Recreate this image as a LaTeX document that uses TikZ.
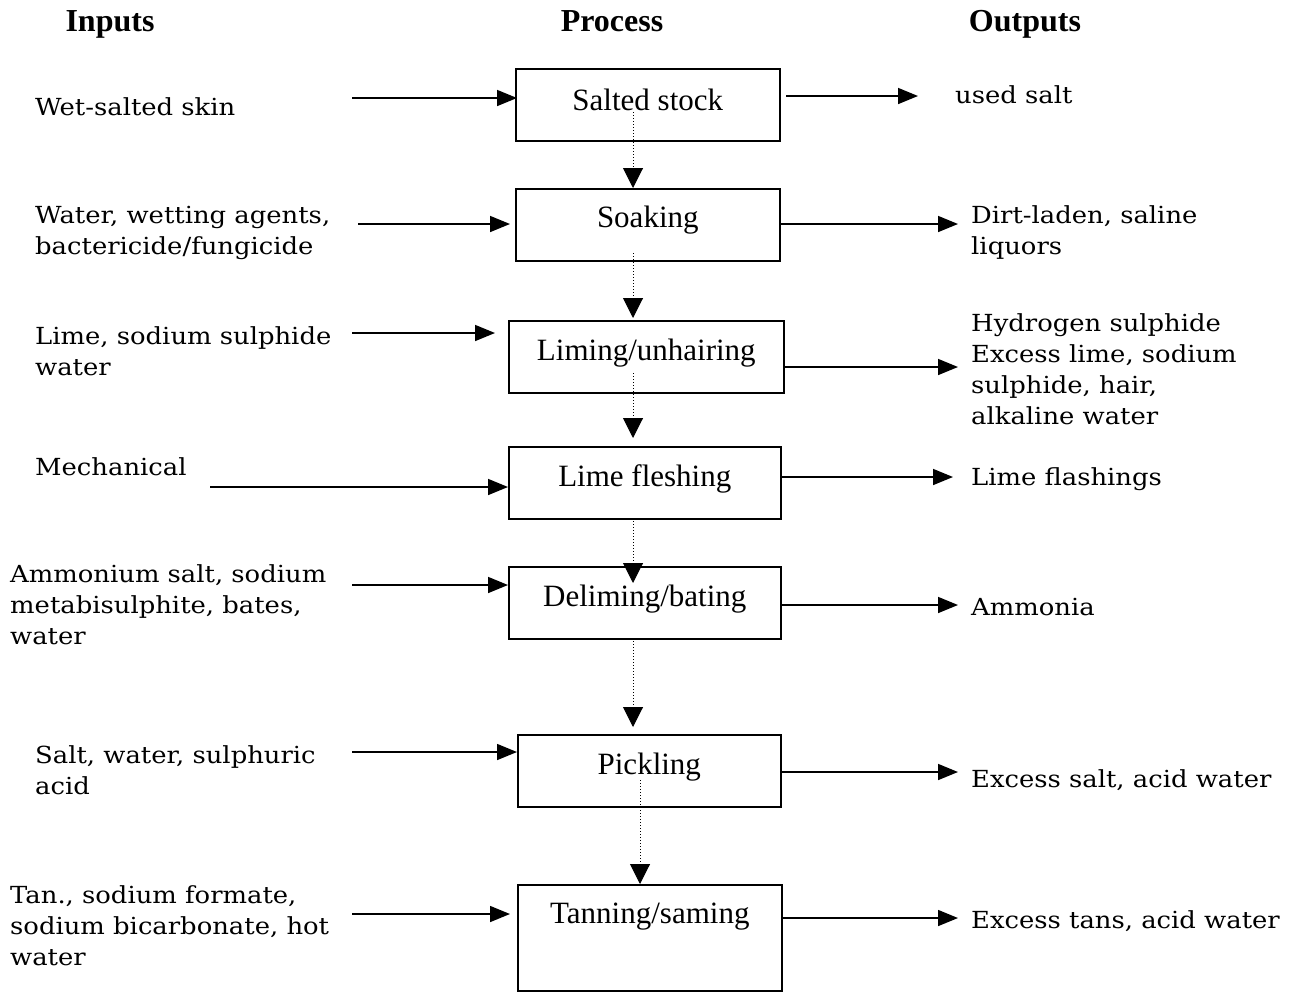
\documentclass[tikz,border=0pt]{standalone}
\usepackage{fontspec}
\setmainfont{Liberation Serif}
\newfontfamily\sidefont[FakeStretch=1.1]{DejaVu Serif}
\usetikzlibrary{arrows.meta}
\begin{document}
\begin{tikzpicture}[x=1pt,y=-1pt,
  procbox/.style={draw,line width=1.6pt,inner sep=0pt,anchor=north west,
    font=\fontsize{31}{36}\selectfont,align=center},
  sidetext/.style={inner sep=0pt,anchor=north west,align=left,
    font=\sidefont\fontsize{23.5}{31}\selectfont},
  header/.style={inner sep=0pt,anchor=base,font=\bfseries\fontsize{32}{36}\selectfont},
  flow/.style={line width=1.6pt,-{Triangle[length=20pt,width=16pt]}},
  dflow/.style={line width=1pt,dotted,-{Triangle[length=20pt,width=20pt]}}]
\useasboundingbox (0,0) rectangle (1289,991);

% headers
\node[header] (hin) at (110,31) {Inputs};
\node[header] (hpr) at (612,31) {Process};
\node[header] (hout) at (1025,31) {Outputs};

% process boxes
\node[procbox,minimum width=264pt,text height=42pt,text depth=30pt] (b1) at (515,68) {Salted stock};
\node[procbox,minimum width=264pt,text height=39pt,text depth=33pt] (b2) at (515,188) {Soaking};
\node[procbox,minimum width=275pt,text height=40pt,text depth=32pt] (b3) at (508,320) {Liming/unhairing};
\node[procbox,minimum width=272pt,text height=40pt,text depth=32pt] (b4) at (508,446) {Lime fleshing};
\node[procbox,minimum width=272pt,text height=40pt,text depth=32pt] (b5) at (508,566) {Deliming/bating};
\node[procbox,minimum width=263pt,text height=40pt,text depth=32pt] (b6) at (517,734) {Pickling};
\node[procbox,minimum width=264pt,text height=39pt,text depth=67pt] (b7) at (517,884) {Tanning/saming};

% inputs
\node[sidetext] (i1) at (35,115-21.7) {\strut Wet-salted skin};
\node[sidetext] (i2) at (35,223-21.7) {\strut Water, wetting agents,\\bactericide/fungicide};
\node[sidetext] (i3) at (35,344-21.7) {\strut Lime, sodium sulphide\\water};
\node[sidetext] (i4) at (35,475-21.7) {\strut Mechanical};
\node[sidetext] (i5) at (10,582-21.7) {\strut Ammonium salt, sodium\\metabisulphite, bates,\\water};
\node[sidetext] (i6) at (35,763-21.7) {\strut Salt, water, sulphuric\\acid};
\node[sidetext] (i7) at (10,903-21.7) {\strut Tan., sodium formate,\\sodium bicarbonate, hot\\water};

% outputs
\node[sidetext] (o1) at (955,103-21.7) {\strut used salt};
\node[sidetext] (o2) at (971,223-21.7) {\strut Dirt-laden, saline\\liquors};
\node[sidetext] (o3) at (971,331-21.7) {\strut Hydrogen sulphide\\Excess lime, sodium\\sulphide, hair,\\alkaline water};
\node[sidetext] (o4) at (971,485-21.7) {\strut Lime flashings};
\node[sidetext] (o5) at (971,615-21.7) {\strut Ammonia};
\node[sidetext] (o6) at (971,787-21.7) {\strut Excess salt, acid water};
\node[sidetext] (o7) at (971,928-21.7) {\strut Excess tans, acid water};

% input arrow coordinates
\coordinate (ia1) at (352,98);  \coordinate (ie1) at (517,98);
\coordinate (ia2) at (358,224); \coordinate (ie2) at (510,224);
\coordinate (ia3) at (352,333); \coordinate (ie3) at (495,333);
\coordinate (ia4) at (210,487); \coordinate (ie4) at (508,487);
\coordinate (ia5) at (352,585); \coordinate (ie5) at (508,585);
\coordinate (ia6) at (352,752); \coordinate (ie6) at (517,752);
\coordinate (ia7) at (352,914); \coordinate (ie7) at (510,914);
\foreach \k in {1,...,7} {\draw[flow] (ia\k) -- (ie\k);}

% output arrow coordinates
\coordinate (oa1) at (786,96);  \coordinate (oe1) at (918,96);
\coordinate (oe2) at (958,224);
\coordinate (oe3) at (958,367);
\coordinate (oe4) at (953,477);
\coordinate (oe5) at (958,605);
\coordinate (oe6) at (958,772);
\coordinate (oe7) at (958,918);
\draw[flow] (oa1) -- (oe1);
\draw[flow] (b2.east |- oe2) -- (oe2);
\draw[flow] (b3.east |- oe3) -- (oe3);
\draw[flow] (b4.east |- oe4) -- (oe4);
\draw[flow] (b5.east |- oe5) -- (oe5);
\draw[flow] (b6.east |- oe6) -- (oe6);
\draw[flow] (b7.east |- oe7) -- (oe7);

% dotted flow between steps
\coordinate (d1s) at (633,112); \coordinate (d1e) at (633,188);
\coordinate (d2s) at (633,253); \coordinate (d2e) at (633,318);
\coordinate (d3s) at (633,373); \coordinate (d3e) at (633,438);
\coordinate (d4s) at (633,518); \coordinate (d4e) at (633,583);
\coordinate (d5s) at (633,638); \coordinate (d5e) at (633,727);
\coordinate (d6s) at (640,780); \coordinate (d6e) at (640,884);
\foreach \k in {1,...,6} {\draw[dflow] (d\k s) -- (d\k e);}
\end{tikzpicture}
\end{document}
